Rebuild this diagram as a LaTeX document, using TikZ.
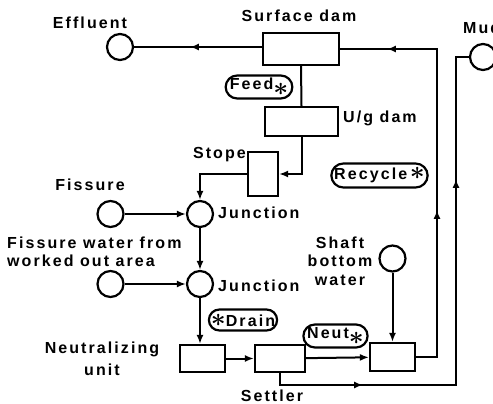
\documentclass[tikz,border=0pt]{standalone}
\usepackage{fontspec}
\setmainfont[LetterSpace=13]{Liberation Sans}
\usetikzlibrary{arrows.meta,shapes.misc,decorations.markings}
\newcommand{\bigast}{\scalebox{1.5}{\boldmath$\ast$}}
\begin{document}
\begin{tikzpicture}[x=1pt,y=-1pt,
  every node/.style={font=\fontsize{16}{18.5}\selectfont\bfseries},
  lbl/.style={inner sep=0pt},
  unitbox/.style={draw,line width=2.2pt,inner sep=0pt},
  src/.style={draw,circle,line width=2.2pt,minimum size=26pt,inner sep=0pt},
  pill/.style={draw,rounded rectangle,line width=2.2pt,inner sep=0pt},
  flow/.style={line width=2pt},
  tip/.style={-{Latex[length=9pt,width=7pt]}},
  marr/.style={postaction={decorate},decoration={markings,mark=at position #1 with {\arrow{Latex[length=9pt,width=7pt]}}}},
  marrr/.style 2 args={postaction={decorate},decoration={markings,mark=at position #1 with {\arrow{Latex[length=9pt,width=7pt]}},mark=at position #2 with {\arrow{Latex[length=9pt,width=7pt]}}}}
]
\useasboundingbox (0,0) rectangle (493,404);
% unit boxes
\node[unitbox,minimum width=76pt,minimum height=32pt] (sd) at (301,49) {};
\node[unitbox,minimum width=73pt,minimum height=29pt] (ug) at (301.5,121.5) {};
\node[unitbox,minimum width=30pt,minimum height=44pt] (stope) at (263,174) {};
\node[unitbox,minimum width=45pt,minimum height=27pt] (neu) at (202.5,358.5) {};
\node[unitbox,minimum width=50pt,minimum height=27pt] (set) at (280,358.5) {};
\node[unitbox,minimum width=45pt,minimum height=28pt] (mix) at (392.5,357) {};
% circles
\node[src] (eff) at (120,47) {};
\node[src] (fis) at (110.5,214) {};
\node[src] (fw) at (110.5,284) {};
\node[src] (j1) at (200,214) {};
\node[src] (j2) at (200,284) {};
\node[src] (shaft) at (392.5,258.5) {};
\node[src] (mud) at (483,57) {};
% pills
\node[pill,minimum width=66pt,minimum height=23pt] (feed) at (259,87) {Feed\raisebox{-6pt}{\bigast}};
\node[pill,minimum width=66pt,minimum height=21pt] (drain) at (243,320) {\bigast Drain};
\node[pill,minimum width=62pt,minimum height=23pt] (neut) at (335.5,336) {Neut\raisebox{-6pt}{\bigast}};
\node[pill,minimum width=96pt,minimum height=24pt] (rec) at (379.5,175.5) {Recycle\,\bigast};
% labels
\node[lbl] (tsd) at (299,16) {Surface dam};
\node[lbl] (teff) at (90,23) {Effluent};
\node[lbl,anchor=west] (tug) at (343,118) {U/g dam};
\node[lbl,anchor=east] (tst) at (246,155) {Stope};
\node[lbl] (tfis) at (90,185) {Fissure};
\node[lbl,anchor=west] (tj1) at (218,213) {Junction};
\node[lbl,anchor=west] (tj2) at (218,286) {Junction};
\node[lbl,anchor=west,align=left] (tfw) at (7,252) {Fissure water from\\worked out area};
\node[lbl,align=center] (tneu) at (102,359) {Neutralizing\\[3pt]unit};
\node[lbl] (tset) at (272,396) {Settler};
\node[lbl,align=center] (tsh) at (340,261) {Shaft\\bottom\\water};
\node[lbl,anchor=west] (tmud) at (463,28) {Mud};
% helper coordinates
\coordinate (rcx) at (437,357);
\coordinate (mb) at (456,385);
% connectors
\draw[flow,marr=72pt] (sd.west |- eff.east) -- (eff.east);
\draw[flow] (sd.south) -- (ug.north);
\draw[flow,tip] (ug.south) |- (stope.east);
\draw[flow,tip] (stope.west) -| (j1.north);
\draw[flow,tip] (fis) -- (j1);
\draw[flow,tip] (j1) -- (j2);
\draw[flow,tip] (fw) -- (j2);
\draw[flow,tip] (j2) -- (j2 |- neu.north);
\draw[flow,tip] (neu) -- (set);
\draw[flow,tip] (set) -- (mix);
\draw[flow,tip] (shaft) -- (shaft |- mix.north);
\draw[flow,marrr={168pt}{379pt}] (mix.east) -- (rcx) |- (sd.east);
\draw[flow,marrr={95pt}{394pt}] (set.south) |- (mb) |- (mud.west);
\end{tikzpicture}
\end{document}
